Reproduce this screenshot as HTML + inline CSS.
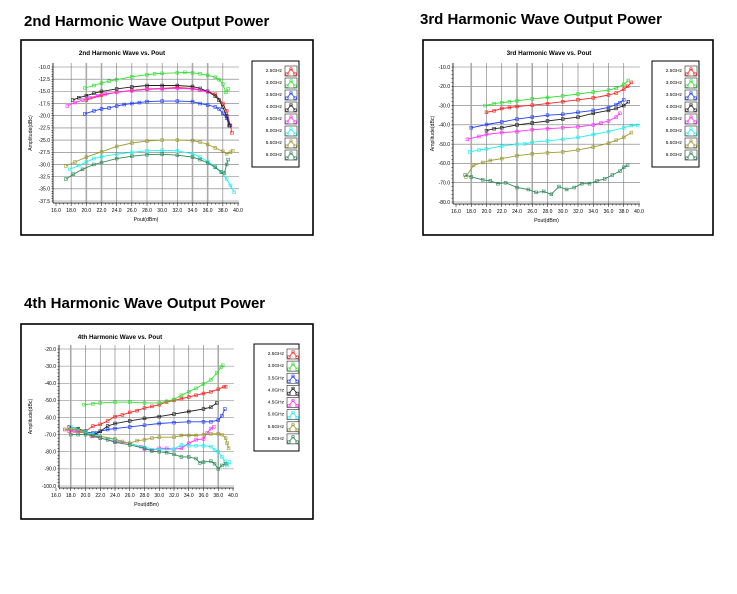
<!DOCTYPE html>
<html><head><meta charset="utf-8"><style>
body{margin:0;background:#fff;font-family:"Liberation Sans",sans-serif}
svg{display:block}
</style></head><body>
<svg id="s" width="737" height="594" viewBox="0 0 737 594" xmlns="http://www.w3.org/2000/svg" font-family="Liberation Sans, sans-serif">
<text x="24" y="26" font-size="15" font-weight="bold">2nd Harmonic Wave Output Power</text>
<text x="420" y="24" font-size="15" font-weight="bold">3rd Harmonic Wave Output Power</text>
<text x="24" y="308" font-size="15" font-weight="bold">4th Harmonic Wave Output Power</text>
</svg>
<script>
const seriesLabels=["2.5GHz","3.0GHz","3.5GHz","4.0GHz","4.5GHz","5.0GHz","5.5GHz","6.0GHz"];
const seriesColors=["#ff2020","#30e030","#2040ff","#202020","#ff30ff","#20f0f0","#a09a30","#2e8a5a"];
const xTicks=[16,18,20,22,24,26,28,30,32,34,36,38,40];
// Chart 1 (2nd harmonic)
const c1x=[[20,22,24,26,28,30,32,34,36,37,38,38.5,39,39.2],[19.8,21,22,23,24,26,28,29,30,32,33,34,35,36,37,37.5,38,38.4,38.7],[19.8,21,22,23,24,25,26,27,28,30,32,34,35,36,37,37.5,38,38.5,38.8],[18.2,19,20,21,22,24,26,28,30,32,34,35,36,37,37.5,38,38.5,38.9],[17.5,18.5,19.5,20.5,21.5,22.5,24,26,28,30,32,34,35,36],[17.8,19,20,21,22,24,26,28,30,32,34,35,36,37,37.8,38.5,39,39.5],[17.3,18.5,20,22,24,26,28,30,32,34,35,36,37,38,38.5,39,39.3],[17.3,18.3,19.5,21,22,24,26,28,30,32,34,35,36,37,37.8,38.2,38.5,38.7]];
const c1y=[[-16.8,-15.8,-15.2,-14.8,-14.5,-14.4,-14.2,-14.4,-15,-15.6,-17.5,-19,-22,-23.5],[-14.3,-13.8,-13.3,-12.9,-12.6,-12,-11.6,-11.4,-11.3,-11.2,-11.1,-11.2,-11.4,-11.7,-12.1,-12.6,-13.5,-15.2,-14.5],[-19.6,-19,-18.6,-18.4,-18,-17.7,-17.5,-17.3,-17.1,-17,-17,-17.1,-17.5,-17.8,-18.2,-18.6,-19.5,-20.5,-22],[-16.8,-16.3,-15.9,-15.4,-15,-14.5,-14.1,-13.8,-13.8,-13.8,-14,-14.4,-15,-16,-16.8,-18.2,-20,-22],[-18,-17.3,-16.8,-16.3,-15.9,-15.5,-15.2,-14.9,-14.6,-14.5,-14.4,-14.5,-14.8,-15.1],[-31,-30.2,-29.5,-28.8,-28.4,-27.9,-27.5,-27.2,-27.1,-27.2,-27.8,-28.5,-29.4,-30.5,-31.5,-33,-34.3,-35.7],[-30.3,-29.5,-28.5,-27.4,-26.3,-25.6,-25.2,-25,-25,-25.1,-25.4,-25.9,-26.6,-27.3,-27.8,-27.5,-27.2],[-33,-32,-31,-30,-29.6,-28.8,-28.3,-28,-27.9,-28.1,-28.5,-29,-29.7,-30.6,-31.6,-31.8,-30,-29]];
const c1yTicks=[-10,-12.5,-15,-17.5,-20,-22.5,-25,-27.5,-30,-32.5,-35,-37.5];
// Chart 2 (3rd harmonic)
const c2x=[[20,21,22,23,24,26,28,30,32,34,36,37,38,38.5,39],[19.8,21,22,23,24,26,28,30,32,34,36,37,38,38.6],[18,20,22,24,26,28,30,32,34,36,37,37.5,38],[20,21,22,24,26,28,30,32,34,36,37,38,38.6],[17.5,19,20,22,24,26,28,30,32,34,35,36,37,37.5],[17.8,19,20,22,24,25,26,28,30,32,34,36,38,39,39.8],[17.3,18.3,19.5,20.5,22,24,26,28,30,32,34,36,37,38,39],[17.2,18,19.5,20.5,21.5,22.5,24,25.5,26.5,27.5,28.5,29.5,30.5,31.5,32.5,33.5,34.5,35.5,36.5,37.5,38,38.5]];
const c2y=[[-33.5,-32.7,-31.5,-31,-30.5,-29.8,-29,-28,-27,-26,-24.5,-23.5,-21.5,-20,-18],[-30,-29,-28.5,-28,-27.5,-26.5,-25.8,-25,-24,-23,-22,-21,-19,-17],[-41.5,-39.8,-38.5,-37,-36,-35,-34.5,-33.5,-32.5,-31,-29.5,-28.5,-27],[-43,-42,-41.5,-40,-39,-38,-37,-36,-34,-32.5,-31.5,-30,-28],[-47.5,-46,-45,-44,-43.5,-42.5,-42,-41.5,-41,-40,-39,-38,-36,-34],[-54,-53,-52.5,-51,-50,-49.8,-49,-48.3,-47.5,-46.5,-45,-43.5,-41.5,-40.3,-40.3],[-67,-61,-59.5,-58.5,-57.5,-56,-55,-54.5,-54,-53,-51.5,-49.5,-48,-46.5,-44],[-66,-67,-68.5,-69,-70.5,-70,-72.5,-73.5,-75,-74.5,-76,-72,-73.5,-72.5,-70.5,-70.5,-69,-68,-66,-64,-62,-61]];
const c2yTicks=[-10,-20,-30,-40,-50,-60,-70,-80];
// Chart 3 (4th harmonic)
const c3x=[[17.8,19,20,21,22,23,24,25,26,27,28,29,30,31,32,33,34,35,36,37,38,38.8,39],[19.8,21,22,24,26,28,30,31,32,33,34,35,36,37,37.8,38.4,38.6],[18,19,20,21,21.5,22,23,24,26,28,30,32,34,36,37,38,38.5,38.9],[17.8,19,20,21,22,23,24,26,28,30,32,34,36,37,37.8],[17.2,18.5,20,20.8,22,24,26,27.5,28,29,30,31,32,33,34,35,36,36.5,37,37.4],[18,19,20,21,22,24,26,28,30,32,33,34,35,36,37,37.5,38,38.5,38.9,39.2,39.5],[17.2,18.5,19.5,21,22,24,25,26,27,28,29,30,32,33,34,35,36,37,38,38.5,39,39.2,39.4],[18,19,20,21,22,23,24,26,28,29,30,31,32,33,34,35,35.5,36,37,37.5,38,38.5,39]];
const c3y=[[-68,-68,-68,-65,-64,-62,-59.5,-58.5,-57,-56,-54.5,-53.5,-52.5,-51,-50,-49,-48,-47,-46,-45,-43.5,-42,-42],[-52.5,-52,-51.5,-51,-51,-51.5,-51.5,-50.5,-49.5,-47,-45,-43,-40.5,-38,-34,-30.5,-29.5],[-67,-67,-68.5,-69,-69,-68,-67,-66.5,-65.5,-64.5,-63.5,-63,-62.5,-62.5,-62.5,-61.5,-59,-55],[-65.5,-66.5,-68,-70.5,-68,-65,-63.5,-62,-60.5,-59.5,-58,-56.5,-55,-54,-51.5],[-67,-68,-69,-71,-72,-74,-75,-77,-78.5,-79,-78,-78,-78.5,-78,-75,-73,-72.5,-69,-66.5,-65.5],[-65.5,-67,-68.5,-70,-71,-73,-75,-77.5,-79,-78.5,-76,-76.5,-76.5,-76.5,-77,-79,-80,-83,-85.5,-88,-86],[-67,-67,-68,-71,-71,-72.5,-74,-75,-73.5,-73,-72,-71.5,-71.5,-70.5,-70.5,-70.5,-70,-69.5,-69.5,-70,-72,-75,-78],[-70,-70,-70,-70.5,-72,-73,-74.5,-76,-78,-79.5,-80,-80.5,-81.5,-83,-83,-84,-86.5,-86,-85.5,-87,-90,-88,-87]];
const c3yTicks=[-20,-30,-40,-50,-60,-70,-80,-90,-100];

const NS="http://www.w3.org/2000/svg";
const svg=document.getElementById('s');
function mk(tag,attrs,parent){const e=document.createElementNS(NS,tag);for(const k in attrs)e.setAttribute(k,attrs[k]);(parent||svg).appendChild(e);return e;}

function chart(cfg,xs,ys,yTicks,slug){
  const g=mk('g',{});
  
  
  const X=v=>cfg.x0+(v-16)*(cfg.x1-cfg.x0)/24;
  const Y=v=>cfg.y0+(v-cfg.ymax)*(cfg.y1-cfg.y0)/(cfg.ymin-cfg.ymax);
  const fr=mk('rect',{x:cfg.bx,y:cfg.by,width:cfg.bw,height:cfg.bh,fill:'#fff',stroke:'#000','stroke-width':1.6},g);
  
  
  const t=mk('text',{x:cfg.tx,y:cfg.by+15,'font-size':6.3,'font-weight':'bold','text-anchor':'middle'},g);
  
  
  t.textContent=cfg.title;
  const pl=cfg.pl, pr=X(40)+1, pt=Y(cfg.ymax)-4, pb=Y(cfg.ymin)+2;
  const grid=mk('g',{stroke:'#777','stroke-width':0.6},g);
  
  
  xTicks.forEach(v=>{ if(v>16&&v<40) mk('line',{x1:X(v),x2:X(v),y1:pt,y2:pb},grid); });
  yTicks.forEach(v=>{ mk('line',{x1:pl,x2:pr,y1:Y(v),y2:Y(v)},grid); });
  (cfg.thick||[]).forEach(v=>{ mk('line',{x1:X(v),x2:X(v),y1:pt,y2:pb,stroke:'#aaa','stroke-width':1.6},grid); });
  mk('line',{x1:pl,x2:pl,y1:pt,y2:pb,stroke:'#000','stroke-width':0.8},g);
  mk('line',{x1:pl,x2:pr,y1:pb,y2:pb,stroke:'#000','stroke-width':0.8},g);
  for(let v=16;v<=40.01;v+=0.5){ mk('line',{x1:X(v),x2:X(v),y1:pb,y2:pb+(v%2==0?3:1.5),stroke:'#000','stroke-width':0.5},g); }
  const step=(yTicks[0]-yTicks[1])/5;
  for(let v=cfg.ymax;v>=cfg.ymin-0.01;v-=step){ mk('line',{x1:pl-1.5,x2:pl,y1:Y(v),y2:Y(v),stroke:'#000','stroke-width':0.5},g); }
  xTicks.forEach(v=>{ const e=mk('text',{x:X(v),y:pb+9,'font-size':5,'text-anchor':'middle'},g);
    
    
    e.textContent=v.toFixed(1); });
  yTicks.forEach(v=>{ const e=mk('text',{x:pl-3,y:Y(v)+1.8,'font-size':5,'text-anchor':'end'},g);
    
    
    e.textContent=v.toFixed(1); });
  const xt=mk('text',{x:(pl+pr)/2,y:pb+18,'font-size':5.2,'text-anchor':'middle'},g);
  
  
  xt.textContent='Pout(dBm)';
  const yc=(pt+pb)/2;
  const yt=mk('text',{x:cfg.bx+11,y:yc,'font-size':5.2,'text-anchor':'middle',transform:`rotate(-90 ${cfg.bx+11} ${yc})`},g);
  
  
  yt.textContent='Amplitude(dBc)';
  xs.forEach((sx,i)=>{
    const sg=mk('g',{},g);
    
    
    const pts=sx.map((v,j)=>X(v).toFixed(1)+','+Y(ys[i][j]).toFixed(1)).join(' ');
    mk('polyline',{points:pts,fill:'none',stroke:seriesColors[i],'stroke-width':0.9},sg);
    sx.forEach((v,j)=>{ const m=mk('rect',{x:X(v)-1.4,y:Y(ys[i][j])-1.4,width:2.8,height:2.8,fill:'none',stroke:seriesColors[i],'stroke-width':0.6},sg);
      
       });
  });
  const lg=mk('g',{},g);
  
  
  mk('rect',{x:cfg.lx,y:cfg.ly,width:cfg.lw,height:cfg.lh,fill:'#fff',stroke:'#000','stroke-width':1},lg);
  const dy=(cfg.lh-10)/8;
  seriesLabels.forEach((lab,i)=>{
    const ey=cfg.ly+5+dy*i;
    const e=mk('g',{},lg);
    
    
    const tx=mk('text',{x:cfg.lx+30,y:ey+6,'font-size':4.8,'text-anchor':'end'},e);
    tx.textContent=lab;
    const ix=cfg.lx+33;
    mk('rect',{x:ix,y:ey,width:12,height:10,fill:'#fff',stroke:'#444','stroke-width':0.7},e);
    mk('polyline',{points:`${ix+2},${ey+8} ${ix+6},${ey+3} ${ix+10},${ey+8}`,fill:'none',stroke:seriesColors[i],'stroke-width':0.8},e);
    [[2,8],[6,3],[10,8]].forEach(p=>mk('rect',{x:ix+p[0]-1.2,y:ey+p[1]-1.2,width:2.4,height:2.4,fill:'none',stroke:seriesColors[i],'stroke-width':0.6},e));
  });
}
chart({bx:21,by:40,bw:292,bh:195,tx:122,title:'2nd Harmonic Wave vs. Pout',x0:56,x1:238,pl:53,ymax:-10,ymin:-37.5,y0:67,y1:201,lx:252,ly:61,lw:47,lh:106,thick:[20,22,34,36]},c1x,c1y,c1yTicks,'2nd-harmonic');
chart({bx:423,by:40,bw:290,bh:195,tx:549,title:'3rd Harmonic Wave vs. Pout',x0:456,x1:639,pl:453,ymax:-10,ymin:-80,y0:67,y1:202,lx:652,ly:61,lw:47,lh:106,thick:[18,24,26]},c2x,c2y,c2yTicks,'3rd-harmonic');
chart({bx:21,by:324,bw:292,bh:195,tx:120,title:'4th Harmonic Wave vs. Pout',x0:56,x1:233,pl:59,ymax:-20,ymin:-100,y0:349,y1:486,lx:254,ly:344,lw:45,lh:107,thick:[18,38]},c3x,c3y,c3yTicks,'4th-harmonic');
</script>
</body></html>
